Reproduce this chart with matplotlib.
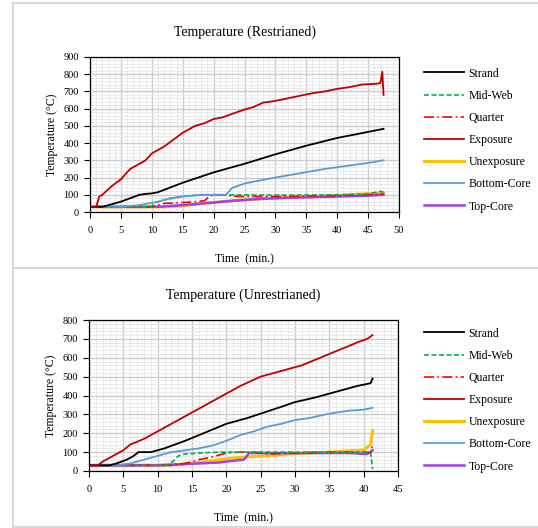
import numpy as np
import matplotlib
matplotlib.use("Agg")
import matplotlib.pyplot as plt
from matplotlib.lines import Line2D
from matplotlib.ticker import MultipleLocator

plt.rcParams['font.family'] = ['Liberation Serif', 'DejaVu Serif']

# ---- Restrained test (top panel) ----
r_strand_t = [0, 2, 3, 5, 6.5, 8, 9, 10, 11, 15, 20, 25, 30, 35, 40, 45, 47.5]
r_strand_v = [30, 30, 40, 60, 80, 100, 105, 108, 115, 170, 230, 280, 335, 385, 430, 465, 483]
r_midweb_t = [0, 10, 10.2, 12, 15, 18, 22, 30, 40, 45, 47, 47.5]
r_midweb_v = [30, 30, 50, 70, 90, 100, 100, 98, 100, 105, 120, 115]
r_quarter_t = [0, 10, 12, 15, 17, 18.5, 19.5, 21, 24, 30, 40, 45, 47.5]
r_quarter_v = [30, 30, 50, 55, 60, 65, 95, 100, 90, 90, 95, 100, 105]
r_expo_t = [0, 1, 1.5, 2, 3.5, 5, 6.5, 8, 9, 10, 12, 13.5, 15, 17, 18.5, 20, 21.5,
            23, 25, 26.5, 28, 30, 32, 34, 36, 38, 40, 42, 44, 46.5, 47, 47.3, 47.5]
r_expo_v = [30, 30, 90, 100, 150, 190, 250, 280, 300, 340, 380, 420, 460, 500, 515, 540, 550,
            570, 595, 610, 635, 645, 660, 675, 690, 700, 715, 725, 740, 745, 750, 815, 680]
r_unexp_t = [0, 12, 15, 18, 20, 23, 27, 30, 35, 40, 44, 47.5]
r_unexp_v = [30, 30, 35, 50, 55, 65, 75, 80, 90, 95, 105, 110]
r_bcore_t = [0, 5, 8, 11, 13, 15, 18, 22, 23, 25, 27, 30, 34, 38, 42, 45, 47.5]
r_bcore_v = [30, 30, 40, 60, 80, 90, 100, 100, 140, 165, 180, 200, 225, 250, 270, 285, 300]
r_tcore_t = [0, 11, 15, 20, 23, 27, 30, 35, 40, 45, 47.5]
r_tcore_v = [30, 30, 40, 55, 65, 75, 80, 85, 90, 95, 100]

# ---- Unrestrained test (bottom panel) ----
u_strand_t = [0, 3, 4, 5.5, 6.5, 7.2, 9, 11, 12.5, 14, 16, 18, 20, 23, 25.5, 28, 30,
              33, 35, 37, 39, 41, 41.3]
u_strand_v = [30, 30, 40, 60, 80, 100, 100, 120, 140, 160, 190, 220, 250, 280, 310, 340, 365,
              390, 410, 430, 450, 465, 490]
u_midweb_t = [0, 11, 11.5, 12.2, 13, 14, 16, 19, 30, 40, 41, 41.3]
u_midweb_v = [30, 30, 35, 50, 80, 90, 95, 100, 100, 100, 100, 10]
u_quarter_t = [0, 12, 14, 16, 18, 20, 22, 24, 26, 30, 35, 40, 41, 41.3]
u_quarter_v = [30, 30, 40, 60, 75, 95, 100, 100, 90, 95, 100, 100, 95, 135]
u_expo_t = [0, 1.3, 2, 3.5, 5, 6, 8, 10, 12.5, 15, 17.5, 20, 22, 23.5, 25, 27, 29, 31,
            33, 35, 37, 39, 40.5, 41.3]
u_expo_v = [30, 30, 50, 80, 110, 140, 170, 210, 260, 310, 360, 410, 450, 475, 500, 520, 540, 560,
            590, 620, 650, 680, 700, 720]
u_unexp_t = [0, 10.5, 13, 16, 18, 20, 23, 26, 29, 32, 35, 37, 40, 41, 41.3]
u_unexp_v = [30, 30, 35, 45, 55, 65, 75, 80, 90, 95, 100, 105, 110, 140, 215]
u_bcore_t = [0, 4, 6, 8, 10, 12, 14, 16, 18, 20, 22, 24, 26, 28, 30, 32, 34.5, 36, 38, 40, 41.3]
u_bcore_v = [30, 30, 40, 60, 80, 100, 110, 120, 135, 160, 190, 210, 235, 250, 270, 280, 300,
             310, 320, 325, 335]
u_tcore_t = [0, 10, 13, 16, 19, 20, 22.5, 22.8, 23.3, 33, 38, 40.5, 41.3]
u_tcore_v = [30, 30, 35, 40, 45, 50, 60, 70, 95, 95, 95, 90, 110]

labels = ["Strand", "Mid-Web", "Quarter", "Exposure", "Unexposure", "Bottom-Core", "Top-Core"]
styles = [
    dict(color='black', lw=1.3, ls='-'),
    dict(color='#00B050', lw=1.2, ls=(0, (3, 1.5))),
    dict(color='#FF0000', lw=1.2, ls=(0, (6, 2, 1, 2))),
    dict(color='#C00000', lw=1.3, ls='-'),
    dict(color='#FFC000', lw=2.2, ls='-'),
    dict(color='#5B9BD5', lw=1.3, ls='-'),
    dict(color='#A040F0', lw=1.8, ls='-'),
]
draw_order = [4, 6, 2, 1, 5, 0, 3]

W, H = 538, 528
fig = plt.figure(figsize=(W / 100, H / 100), dpi=100)


def px_axes(left, top, right, bottom):
    return fig.add_axes([left / W, 1 - bottom / H, (right - left) / W, (bottom - top) / H])


def setup(ax, xmax, ymax, title, legend_top):
    ax.set_xlim(0, xmax)
    ax.set_ylim(0, ymax)
    ax.xaxis.set_major_locator(MultipleLocator(5))
    ax.xaxis.set_minor_locator(MultipleLocator(1))
    ax.yaxis.set_major_locator(MultipleLocator(100))
    ax.yaxis.set_minor_locator(MultipleLocator(20))
    ax.grid(which='minor', color='#e6e6e6', linewidth=0.6)
    ax.grid(which='major', color='#cccccc', linewidth=1.0)
    ax.set_axisbelow(True)
    ax.tick_params(which='major', direction='out', length=4, width=0.8, labelsize=7.5, pad=6)
    ax.tick_params(which='minor', length=0)
    ax.tick_params(axis='y', pad=4)
    for s in ax.spines.values():
        s.set_linewidth(0.9)
    ax.set_title(title, fontsize=10, pad=15)
    ax.set_xlabel("Time  (min.)", fontsize=8.5, labelpad=13)
    ax.set_ylabel("Temperature (°C)", fontsize=8.5, labelpad=4)
    handles = [Line2D([], [], **st) for st in styles]
    ax.legend(handles, labels, loc='upper left', bbox_to_anchor=(413 / W, 1 - legend_top / H),
              bbox_transform=fig.transFigure, frameon=False, fontsize=8.5,
              handlelength=3.4, labelspacing=0.86, handletextpad=0.4)


top = px_axes(90, 57, 399, 212)
series_r = [(r_strand_t, r_strand_v), (r_midweb_t, r_midweb_v), (r_quarter_t, r_quarter_v),
            (r_expo_t, r_expo_v), (r_unexp_t, r_unexp_v), (r_bcore_t, r_bcore_v),
            (r_tcore_t, r_tcore_v)]
for i in draw_order:
    top.plot(series_r[i][0], series_r[i][1], **styles[i])
setup(top, 50, 900, "Temperature (Restrianed)", 57)

bot = px_axes(89, 320, 398, 471)
series_u = [(u_strand_t, u_strand_v), (u_midweb_t, u_midweb_v), (u_quarter_t, u_quarter_v),
            (u_expo_t, u_expo_v), (u_unexp_t, u_unexp_v), (u_bcore_t, u_bcore_v),
            (u_tcore_t, u_tcore_v)]
for i in draw_order:
    bot.plot(series_u[i][0], series_u[i][1], **styles[i])
setup(bot, 45, 800, "Temperature (Unrestrianed)", 317)

# panel frames
frame = dict(color='#d9d9d9', lw=1.5, transform=fig.transFigure)
fig.add_artist(Line2D([13 / W, 13 / W], [1 - 3 / H, 1 - 527 / H], **frame))
fig.add_artist(Line2D([13 / W, 1], [1 - 3 / H, 1 - 3 / H], **frame))
fig.add_artist(Line2D([13 / W, 1], [1 - 268 / H, 1 - 268 / H], **frame))
fig.add_artist(Line2D([13 / W, 1], [1 - 527 / H, 1 - 527 / H], **frame))

fig.savefig("out.png", dpi=100)
